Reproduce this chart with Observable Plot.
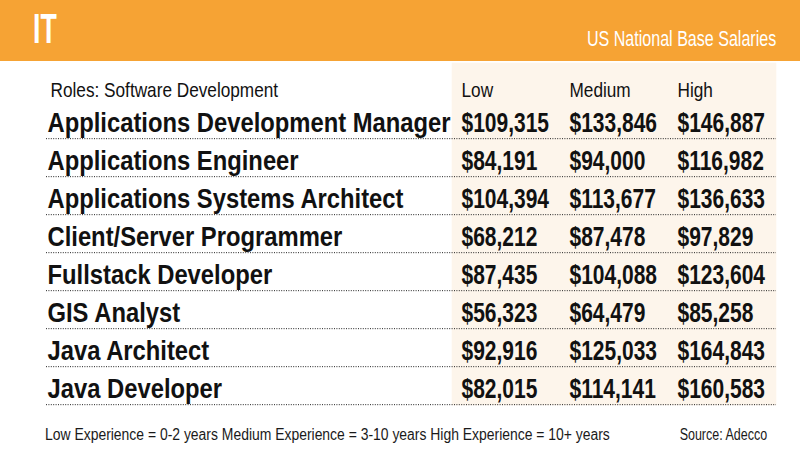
<!DOCTYPE html>
<html><head><meta charset="utf-8">
<script src="https://cdn.jsdelivr.net/npm/d3@7"></script>
<script src="https://cdn.jsdelivr.net/npm/@observablehq/plot@0.6"></script>
<style>
body{margin:0;background:#fff;}
#wrap{position:relative;width:800px;height:450px;overflow:hidden;font-family:"Liberation Sans","Arial",sans-serif;}
#banner{position:absolute;left:0;top:0;width:800px;height:61px;background:#F6A334;}
#title{position:absolute;left:33px;top:6.5px;font-size:43px;line-height:1;font-weight:bold;color:#fff;transform:scaleX(0.62);transform-origin:left center;}
#subtitle{position:absolute;right:24px;top:27.5px;font-size:22px;line-height:1;color:#fff;transform:scaleX(0.73);transform-origin:right center;white-space:nowrap;}
#chart{position:absolute;left:0;top:61px;}
.foot{position:absolute;top:426.5px;font-size:16px;line-height:1;color:#1a1a1a;white-space:nowrap;}
#note{left:45px;transform:scaleX(0.87);transform-origin:left center;}
#source{right:33px;transform:scaleX(0.78);transform-origin:right center;}
</style>
</head><body>
<div id="wrap">
  <div id="banner"><span id="title"></span><span id="subtitle"></span></div>
  <div id="chart"></div>
  <span class="foot" id="note"></span>
  <span class="foot" id="source"></span>
</div>
<script>
const titleText = "IT";
const subtitleText = "US National Base Salaries";
const header = "Roles: Software Development";
const noteText = "Low Experience = 0-2 years Medium Experience = 3-10 years High Experience = 10+ years";
const sourceText = "Source: Adecco";
const levels = ["Low", "Medium", "High"];
const roles = [
  "Applications Development Manager",
  "Applications Engineer",
  "Applications Systems Architect",
  "Client/Server Programmer",
  "Fullstack Developer",
  "GIS Analyst",
  "Java Architect",
  "Java Developer"
];
const low = [109315, 84191, 104394, 68212, 87435, 56323, 92916, 82015];
const medium = [133846, 94000, 113677, 87478, 104088, 64479, 125033, 114141];
const high = [146887, 116982, 136633, 97829, 123604, 85258, 164843, 160583];

document.getElementById("title").textContent = titleText;
document.getElementById("subtitle").textContent = subtitleText;
document.getElementById("note").textContent = noteText;
document.getElementById("source").textContent = sourceText;

const series = {Low: low, Medium: medium, High: high};
const rows = [header, ...roles];
const cells = rows.flatMap(r => levels.map(l => ({row: r, level: l})));
const values = roles.flatMap((r, i) => levels.map(l => ({row: r, level: l, value: series[l][i]})));
const fmt = d3.format(",");
const H = 350, mb = 5;
const band = (H - mb) / rows.length;
const font = '"Liberation Sans","Arial",sans-serif';

const plot = Plot.plot({
  width: 800, height: H,
  marginTop: 0, marginBottom: mb, marginLeft: 46, marginRight: 24,
  x: {domain: levels, range: [452, 776], padding: 0, axis: null},
  y: {domain: rows, padding: 0, axis: null},
  style: {fontFamily: font, background: "transparent", overflow: "visible"},
  marks: [
    Plot.cell(cells, {x: "level", y: "row", fill: "#FDF5EB", stroke: "#FDF5EB", strokeWidth: 0.6}),
    Plot.ruleY(roles, {y: d => d, dy: band / 2 - 1, stroke: "#222", strokeWidth: 1, strokeDasharray: "1,1.4"}),
    Plot.text([header], {y: d => d, text: d => d, frameAnchor: "left", textAnchor: "start", dx: 4, dy: 8, fontSize: 21, fill: "#111"}),
    Plot.text(levels, {x: d => d, y: () => header, text: d => d, textAnchor: "start", dx: -45, dy: 8, fontSize: 21, fill: "#111"}),
    Plot.text(roles, {y: d => d, text: d => d, frameAnchor: "left", textAnchor: "start", dx: 1, dy: 2.5, fontSize: 28, fontWeight: "bold", fill: "#111"}),
    Plot.text(values, {x: "level", y: "row", text: d => "$" + fmt(d.value), textAnchor: "start", dx: -45, dy: 2.5, fontSize: 28, fontWeight: "bold", fill: "#111"})
  ]
});
document.getElementById("chart").append(plot);

// condensed look: narrow each text horizontally around its anchor (no condensed font is installed)
plot.querySelectorAll("text").forEach(t => {
  const cs = getComputedStyle(t);
  const bold = cs.fontWeight === "700" || cs.fontWeight === "bold";
  const k = !bold ? 0.82 : (t.textContent.trim().startsWith("$") ? 0.75 : 0.85);
  const x = parseFloat(t.getAttribute("x")) || 0;
  const tr = t.getAttribute("transform") || "";
  t.setAttribute("transform", `${tr} translate(${x},0) scale(${k},1) translate(${-x},0)`);
});
</script>
</body></html>
